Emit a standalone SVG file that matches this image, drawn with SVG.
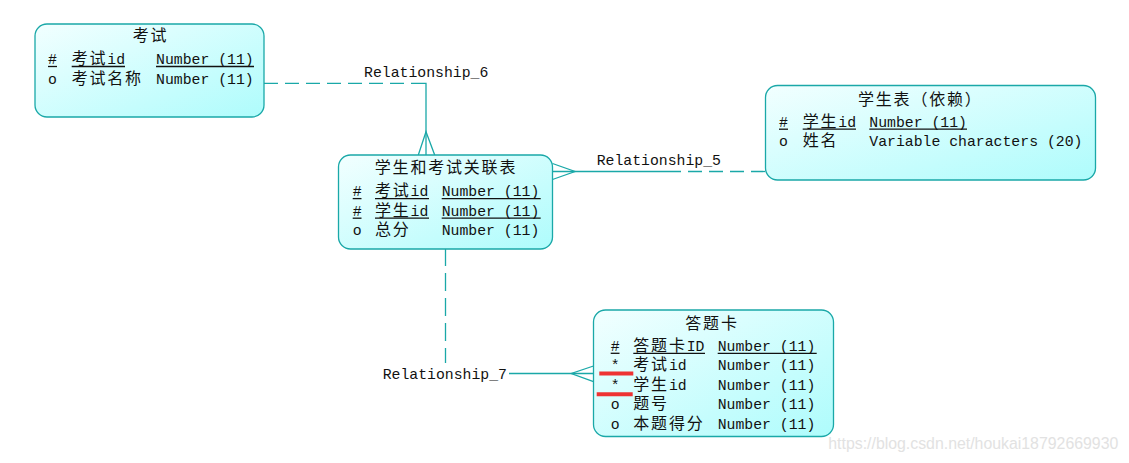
<svg xmlns="http://www.w3.org/2000/svg" width="1129" height="463" viewBox="0 0 1129 463">
<style>
.box{fill:url(#g);stroke:#1aa8a8;stroke-width:1.3}
.t{font-family:"Liberation Mono","Noto Sans CJK SC",monospace;font-size:14.8px;fill:#111}
.c{font-family:"Noto Sans CJK SC","Noto Sans CJK JP",sans-serif;font-size:16px;letter-spacing:1.8px}
.ul{stroke:#111;stroke-width:1.3}
.ln{fill:none;stroke:#1aa8a8;stroke-width:1.3}
.d{stroke-dasharray:14 7}
.red{stroke:#ee3333;stroke-width:4}
.wm{font-family:"Liberation Sans",Arial,sans-serif;font-size:16px;fill:#e2e2e2}
</style>
<defs>
<linearGradient id="g" x1="0" y1="0" x2="1" y2="1">
<stop offset="0" stop-color="#f2ffff"/>
<stop offset="1" stop-color="#aefcfc"/>
</linearGradient>
</defs>
<rect width="1129" height="463" fill="#ffffff"/>

<g id="connectors">
<!-- Relationship_6 -->
<line class="ln d" x1="264" y1="83.3" x2="416" y2="83.3"/>
<polyline class="ln" points="416,83.3 426,83.3 426,155"/>
<polyline class="ln" points="418.3,155 426,131.7 434.7,155"/>
<text class="t" x="364" y="77">Relationship_6</text>
<!-- Relationship_5 -->
<line class="ln" x1="552.5" y1="171.5" x2="667" y2="171.5"/>
<line class="ln d" x1="667" y1="171.5" x2="765.5" y2="171.5"/>
<polyline class="ln" points="552.5,163.5 575,171.5 552.5,179.5"/>
<text class="t" x="596.7" y="165">Relationship_5</text>
<!-- Relationship_7 -->
<line class="ln" x1="445.5" y1="249" x2="445.5" y2="266"/>
<line class="ln" x1="445.5" y1="266" x2="445.5" y2="363" stroke-dasharray="0 7 18 0"/>
<line class="ln" x1="509" y1="373.5" x2="593.5" y2="373.5"/>
<polyline class="ln" points="593.5,366 571.3,373.5 593.5,381.7"/>
<text class="t" x="382.7" y="378.5">Relationship_7</text>
</g>

<g id="kaoshi">
<rect class="box" x="35" y="24" width="229" height="93" rx="12" ry="12"/>
<text class="t" x="150.5" y="41" text-anchor="middle"><tspan class="c">考试</tspan></text>
<text class="t" x="48" y="64">#</text>
<text class="t" x="71.7" y="64"><tspan class="c">考试</tspan>id</text>
<text class="t" x="156" y="64">Number (11)</text>
<line class="ul" x1="48" y1="66.5" x2="57" y2="66.5"/>
<line class="ul" x1="71.7" y1="66.5" x2="125" y2="66.5"/>
<line class="ul" x1="156" y1="66.5" x2="254" y2="66.5"/>
<text class="t" x="48" y="83.5">o</text>
<text class="t" x="71.7" y="83.5"><tspan class="c">考试名称</tspan></text>
<text class="t" x="156" y="83.5">Number (11)</text>
</g>

<g id="guanlian">
<rect class="box" x="338.5" y="155" width="214" height="94" rx="12" ry="12"/>
<text class="t" x="446" y="172.5" text-anchor="middle"><tspan class="c">学生和考试关联表</tspan></text>
<text class="t" x="352.7" y="196">#</text>
<text class="t" x="375" y="196"><tspan class="c">考试</tspan>id</text>
<text class="t" x="441.7" y="196">Number (11)</text>
<line class="ul" x1="352.7" y1="198.6" x2="361.5" y2="198.6"/>
<line class="ul" x1="375" y1="198.6" x2="429" y2="198.6"/>
<line class="ul" x1="441.7" y1="198.6" x2="540.7" y2="198.6"/>
<text class="t" x="352.7" y="215.5">#</text>
<text class="t" x="375" y="215.5"><tspan class="c">学生</tspan>id</text>
<text class="t" x="441.7" y="215.5">Number (11)</text>
<line class="ul" x1="352.7" y1="218.2" x2="361.5" y2="218.2"/>
<line class="ul" x1="375" y1="218.2" x2="429" y2="218.2"/>
<line class="ul" x1="441.7" y1="218.2" x2="540.7" y2="218.2"/>
<text class="t" x="352.7" y="235">o</text>
<text class="t" x="375" y="235"><tspan class="c">总分</tspan></text>
<text class="t" x="441.7" y="235">Number (11)</text>
</g>

<g id="xuesheng">
<rect class="box" x="765.5" y="85.5" width="330" height="94.5" rx="12" ry="12"/>
<text class="t" x="858" y="104.5"><tspan class="c">学生表（依赖）</tspan></text>
<text class="t" x="779" y="126.5">#</text>
<text class="t" x="802.7" y="126.5"><tspan class="c">学生</tspan>id</text>
<text class="t" x="869.3" y="126.5">Number (11)</text>
<line class="ul" x1="779" y1="129.2" x2="788" y2="129.2"/>
<line class="ul" x1="802.7" y1="129.2" x2="856" y2="129.2"/>
<line class="ul" x1="869.3" y1="129.2" x2="967" y2="129.2"/>
<text class="t" x="779" y="145.5">o</text>
<text class="t" x="802.7" y="145.5"><tspan class="c">姓名</tspan></text>
<text class="t" x="869.3" y="145.5">Variable characters (20)</text>
</g>

<g id="datika">
<rect class="box" x="593.5" y="310" width="240" height="126.5" rx="12" ry="12"/>
<text class="t" x="712" y="328.5" text-anchor="middle"><tspan class="c">答题卡</tspan></text>
<text class="t" x="610.7" y="350.7">#</text>
<text class="t" x="633.3" y="350.7"><tspan class="c">答题卡</tspan>ID</text>
<text class="t" x="717.7" y="350.7">Number (11)</text>
<line class="ul" x1="610.7" y1="353.3" x2="619.5" y2="353.3"/>
<line class="ul" x1="633.3" y1="353.3" x2="705" y2="353.3"/>
<line class="ul" x1="717.7" y1="353.3" x2="816.7" y2="353.3"/>
<text class="t" x="610.7" y="370.2">*</text>
<text class="t" x="633.3" y="370.2"><tspan class="c">考试</tspan>id</text>
<text class="t" x="717.7" y="370.2">Number (11)</text>
<text class="t" x="610.7" y="389.7">*</text>
<text class="t" x="633.3" y="389.7"><tspan class="c">学生</tspan>id</text>
<text class="t" x="717.7" y="389.7">Number (11)</text>
<text class="t" x="610.7" y="409.2">o</text>
<text class="t" x="633.3" y="409.2"><tspan class="c">题号</tspan></text>
<text class="t" x="717.7" y="409.2">Number (11)</text>
<text class="t" x="610.7" y="428.7">o</text>
<text class="t" x="633.3" y="428.7"><tspan class="c">本题得分</tspan></text>
<text class="t" x="717.7" y="428.7">Number (11)</text>
<line class="red" x1="599.3" y1="373.5" x2="633.3" y2="373.5"/>
<line class="red" x1="596.7" y1="394.3" x2="632.7" y2="394.3"/>
</g>

<text class="wm" x="828.3" y="448.5" textLength="290" lengthAdjust="spacingAndGlyphs">https://blog.csdn.net/houkai18792669930</text>
</svg>
